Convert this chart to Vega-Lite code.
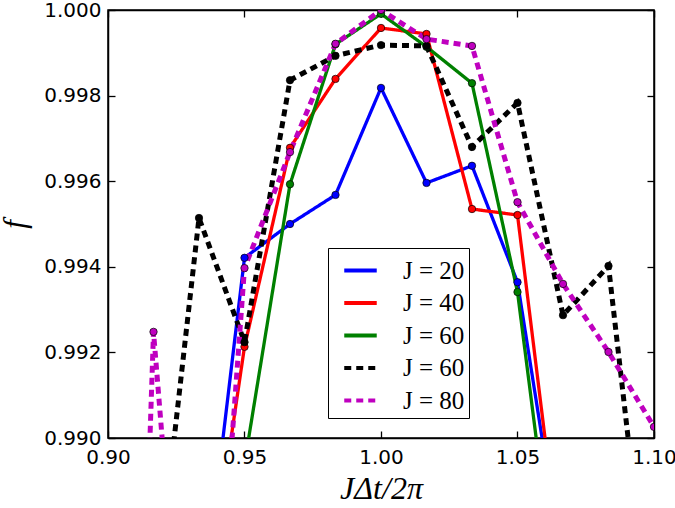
{
  "$schema": "https://vega.github.io/schema/vega-lite/v6.json",
  "width": 546,
  "height": 428,
  "autosize": "none",
  "padding": {"left": 108, "top": 10, "right": 21, "bottom": 70},
  "background": "white",
  "config": {
    "view": {"stroke": "black", "strokeWidth": 1.5},
    "axis": {
      "domainColor": "black",
      "domainWidth": 1.5,
      "tickColor": "black",
      "tickWidth": 1.3,
      "tickSize": -7,
      "grid": false,
      "labelFlush": false,
      "labelOverlap": false,
      "labelFont": "DejaVu Sans",
      "labelFontSize": 20,
      "labelColor": "black"
    }
  },
  "data": {
    "values": [
      {"series": "J = 20", "x": 0.93333, "f": 0.9853},
      {"series": "J = 20", "x": 0.95, "f": 0.99421},
      {"series": "J = 20", "x": 0.96667, "f": 0.9950},
      {"series": "J = 20", "x": 0.98333, "f": 0.99568},
      {"series": "J = 20", "x": 1.0, "f": 0.99818},
      {"series": "J = 20", "x": 1.01667, "f": 0.99596},
      {"series": "J = 20", "x": 1.03333, "f": 0.99636},
      {"series": "J = 20", "x": 1.05, "f": 0.99364},
      {"series": "J = 20", "x": 1.06667, "f": 0.9869},

      {"series": "J = 40", "x": 0.93333, "f": 0.9849},
      {"series": "J = 40", "x": 0.95, "f": 0.99213},
      {"series": "J = 40", "x": 0.96667, "f": 0.99678},
      {"series": "J = 40", "x": 0.98333, "f": 0.99839},
      {"series": "J = 40", "x": 1.0, "f": 0.99958},
      {"series": "J = 40", "x": 1.01667, "f": 0.99944},
      {"series": "J = 40", "x": 1.03333, "f": 0.99535},
      {"series": "J = 40", "x": 1.05, "f": 0.99521},
      {"series": "J = 40", "x": 1.06667, "f": 0.9866},

      {"series": "J = 60", "x": 0.93333, "f": 0.983},
      {"series": "J = 60", "x": 0.95, "f": 0.9894},
      {"series": "J = 60", "x": 0.96667, "f": 0.99593},
      {"series": "J = 60", "x": 0.98333, "f": 0.9992},
      {"series": "J = 60", "x": 1.0, "f": 0.99991},
      {"series": "J = 60", "x": 1.01667, "f": 0.99914},
      {"series": "J = 60", "x": 1.03333, "f": 0.99829},
      {"series": "J = 60", "x": 1.05, "f": 0.99341},
      {"series": "J = 60", "x": 1.06667, "f": 0.9851},

      {"series": "J = 60 (b)", "x": 0.91667, "f": 0.9857},
      {"series": "J = 60 (b)", "x": 0.93333, "f": 0.99514},
      {"series": "J = 60 (b)", "x": 0.95, "f": 0.99224},
      {"series": "J = 60 (b)", "x": 0.96667, "f": 0.99836},
      {"series": "J = 60 (b)", "x": 0.98333, "f": 0.99893},
      {"series": "J = 60 (b)", "x": 1.0, "f": 0.99918},
      {"series": "J = 60 (b)", "x": 1.01667, "f": 0.99916},
      {"series": "J = 60 (b)", "x": 1.03333, "f": 0.99680},
      {"series": "J = 60 (b)", "x": 1.05, "f": 0.99783},
      {"series": "J = 60 (b)", "x": 1.06667, "f": 0.99287},
      {"series": "J = 60 (b)", "x": 1.08333, "f": 0.99402},
      {"series": "J = 60 (b)", "x": 1.1, "f": 0.9847},

      {"series": "J = 80", "x": 0.9, "f": 0.9607},
      {"series": "J = 80", "x": 0.91667, "f": 0.99248},
      {"series": "J = 80", "x": 0.93333, "f": 0.9794},
      {"series": "J = 80", "x": 0.95, "f": 0.99397},
      {"series": "J = 80", "x": 0.96667, "f": 0.99668},
      {"series": "J = 80", "x": 0.98333, "f": 0.99921},
      {"series": "J = 80", "x": 1.0, "f": 1.0},
      {"series": "J = 80", "x": 1.01667, "f": 0.99932},
      {"series": "J = 80", "x": 1.03333, "f": 0.99916},
      {"series": "J = 80", "x": 1.05, "f": 0.99551},
      {"series": "J = 80", "x": 1.06667, "f": 0.99360},
      {"series": "J = 80", "x": 1.08333, "f": 0.99201},
      {"series": "J = 80", "x": 1.1, "f": 0.99026}
    ]
  },
  "layer": [
    {
      "transform": [{"filter": "indexof(['J = 20', 'J = 40', 'J = 60'], datum.series) >= 0"}],
      "mark": {"type": "line", "clip": true, "strokeWidth": 3.3},
      "encoding": {
        "x": {
          "field": "x", "type": "quantitative",
          "scale": {"domain": [0.9, 1.1], "nice": false, "zero": false},
          "axis": {
            "orient": "bottom",
            "values": [0.9, 0.95, 1.0, 1.05, 1.1],
            "format": ".2f",
            "labelPadding": 16,
            "title": "JΔt/2π",
            "titleFont": "Liberation Serif",
            "titleFontStyle": "italic",
            "titleFontWeight": "normal",
            "titleFontSize": 32,
            "titlePadding": 6,
            "titleColor": "black"
          }
        },
        "y": {
          "field": "f", "type": "quantitative",
          "scale": {"domain": [0.99, 1.0], "nice": false, "zero": false},
          "axis": {
            "orient": "left",
            "values": [0.99, 0.992, 0.994, 0.996, 0.998, 1.0],
            "format": ".3f",
            "labelPadding": 14,
            "title": "f",
            "titleFont": "Liberation Serif",
            "titleFontStyle": "italic",
            "titleFontWeight": "normal",
            "titleFontSize": 31,
            "titlePadding": 12,
            "titleColor": "black"
          }
        },
        "color": {
          "field": "series", "type": "nominal",
          "scale": {
            "domain": ["J = 20", "J = 40", "J = 60", "J = 60 (b)", "J = 80"],
            "range": ["#0000ff", "#ff0000", "#008000", "#000000", "#bf00bf"]
          },
          "legend": {
            "orient": "none",
            "legendX": 220,
            "legendY": 238,
            "title": null,
            "fillColor": "white",
            "strokeColor": "black",
            "padding": 4,
            "symbolType": "stroke",
            "symbolSize": 1056,
            "symbolStrokeWidth": 4,
            "symbolOffset": 10,
            "labelOffset": 24,
            "rowPadding": 0.5,
            "labelFont": "Liberation Serif",
            "labelFontSize": 25,
            "labelColor": "black",
            "labelExpr": "replace(datum.label, ' (b)', '')"
          }
        },
        "strokeDash": {
          "field": "series", "type": "nominal",
          "scale": {
            "domain": ["J = 20", "J = 40", "J = 60", "J = 60 (b)", "J = 80"],
            "range": [[1, 0], [1, 0], [1, 0], [7, 5], [7, 5]]
          }
        }
      }
    },
    {
      "transform": [{"filter": "indexof(['J = 60 (b)', 'J = 80'], datum.series) >= 0"}],
      "mark": {"type": "line", "clip": true, "strokeWidth": 5},
      "encoding": {
        "x": {
          "field": "x", "type": "quantitative",
          "scale": {"domain": [0.9, 1.1], "nice": false, "zero": false},
          "axis": null
        },
        "y": {
          "field": "f", "type": "quantitative",
          "scale": {"domain": [0.99, 1.0], "nice": false, "zero": false},
          "axis": null
        },
        "color": {
          "field": "series", "type": "nominal",
          "scale": {
            "domain": ["J = 20", "J = 40", "J = 60", "J = 60 (b)", "J = 80"],
            "range": ["#0000ff", "#ff0000", "#008000", "#000000", "#bf00bf"]
          }
        },
        "strokeDash": {
          "field": "series", "type": "nominal",
          "scale": {
            "domain": ["J = 20", "J = 40", "J = 60", "J = 60 (b)", "J = 80"],
            "range": [[1, 0], [1, 0], [1, 0], [7, 5], [7, 5]]
          }
        }
      }
    },
    {
      "mark": {"type": "point", "shape": "circle", "filled": true, "clip": true, "size": 55, "stroke": "black", "strokeWidth": 0.7, "opacity": 1},
      "encoding": {
        "x": {
          "field": "x", "type": "quantitative",
          "scale": {"domain": [0.9, 1.1], "nice": false, "zero": false},
          "axis": {"orient": "top", "values": [0.9, 0.95, 1.0, 1.05, 1.1], "labels": false, "title": null}
        },
        "y": {
          "field": "f", "type": "quantitative",
          "scale": {"domain": [0.99, 1.0], "nice": false, "zero": false},
          "axis": {"orient": "right", "values": [0.99, 0.992, 0.994, 0.996, 0.998, 1.0], "labels": false, "title": null}
        },
        "fill": {
          "field": "series", "type": "nominal",
          "scale": {
            "domain": ["J = 20", "J = 40", "J = 60", "J = 60 (b)", "J = 80"],
            "range": ["#0000ff", "#ff0000", "#008000", "#000000", "#bf00bf"]
          },
          "legend": null
        }
      }
    }
  ],
  "resolve": {"axis": {"x": "independent", "y": "independent"}}
}
